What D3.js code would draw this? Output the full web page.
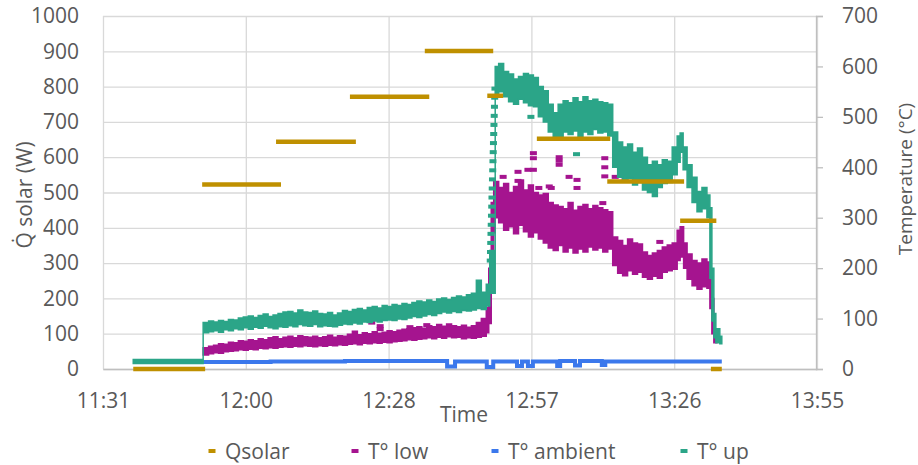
<!DOCTYPE html>
<html lang="en">
<head>
<meta charset="UTF-8">
<title>Qsolar and temperatures</title>
<script src="https://d3js.org/d3.v7.min.js"></script>
<style>
    body { margin: 0; background: white; }
    svg { display: block; background: white; }
    text { font-family: "Open Sans", "Noto Sans", sans-serif; fill: #595959; }
</style>
</head>
<body>
<svg width="918" height="465" id="chart"></svg>
<script>
    // time is in minutes after midnight
    const xTicks = [691.2, 720, 748.8, 777.6, 806.4, 835.2];
    const xTickLabels = ["11:31", "12:00", "12:28", "12:57", "13:26", "13:55"];
    const leftTicks = [0, 100, 200, 300, 400, 500, 600, 700, 800, 900, 1000];
    const rightTicks = [0, 100, 200, 300, 400, 500, 600, 700];

    const seriesNames = ["Qsolar", "T° low", "T° ambient", "T° up"];
    const seriesColors = ["#bf9000", "#a5148f", "#3b78ec", "#2ba588"];

    // Qsolar steps: [start, end, W]
    const qsolar = [
        [697.3, 711.8, 0], [711.2, 727.1, 523], [726.1, 742.2, 644], [741.0, 757.0, 771],
        [756.1, 769.9, 901], [768.7, 771.9, 774], [778.7, 793.5, 652], [792.9, 808.4, 531],
        [807.6, 814.9, 420], [813.8, 816.0, 0]
    ];

    // T up band: [time, low edge, high edge] in °C
    const tUp = [
        [697.3, 11, 19], [711.4, 72, 92], [712.5, 74, 95], [713.5, 76, 93], [714.5, 73, 96],
        [715.5, 78, 94], [716.5, 76, 98], [717.5, 80, 97], [718.5, 78, 101], [719.5, 82, 103],
        [720.5, 79, 105], [721.5, 83, 102], [722.5, 81, 106], [723.5, 85, 109], [724.5, 82, 104],
        [725.5, 80, 107], [726.5, 84, 110], [727.5, 83, 113], [728.5, 86, 114], [729.5, 84, 111],
        [730.5, 88, 117], [731.5, 86, 113], [732.5, 85, 112], [733.5, 88, 115], [734.5, 84, 110],
        [735.5, 86, 109], [736.5, 85, 112], [737.5, 84, 107], [738.5, 87, 111], [739.5, 89, 116],
        [740.5, 88, 114], [741.5, 91, 118], [742.5, 89, 120], [743.5, 93, 117], [744.5, 92, 122],
        [745.5, 95, 124], [746.5, 93, 121], [747.5, 96, 126], [748.5, 97, 124], [749.5, 96, 128],
        [750.5, 99, 126], [751.5, 98, 130], [752.5, 101, 128], [753.5, 104, 132], [754.5, 102, 135],
        [755.5, 105, 133], [756.5, 108, 137], [757.5, 106, 134], [758.5, 110, 139], [759.5, 113, 141],
        [760.5, 111, 138], [761.5, 114, 142], [762.5, 112, 145], [763.5, 116, 143], [764.5, 115, 147],
        [765.5, 117, 150], [766.5, 120, 176], [767.5, 118, 152], [768.5, 125, 168], [769.2, 150, 235],
        [770.3, 545, 600], [771.0, 550, 606], [772.0, 540, 590], [773.0, 530, 585], [774.0, 525, 575],
        [775.0, 535, 580], [776.0, 528, 586], [777.0, 522, 583], [778.0, 520, 578], [779.0, 500, 560],
        [780.0, 490, 552], [781.0, 470, 525], [782.0, 455, 508], [783.0, 460, 525], [784.0, 470, 532],
        [785.0, 465, 528], [786.0, 472, 538], [787.0, 460, 530], [788.0, 470, 540], [789.0, 465, 532],
        [790.0, 475, 535], [791.0, 468, 530], [792.0, 470, 528], [793.0, 462, 525], [794.0, 400, 470],
        [795.0, 380, 450], [796.0, 372, 440], [797.0, 378, 446], [798.0, 365, 430], [799.0, 370, 438],
        [800.0, 355, 420], [801.0, 350, 405], [802.0, 342, 412], [803.0, 360, 405], [804.0, 368, 415],
        [805.0, 370, 412], [806.0, 385, 440], [807.0, 410, 462], [807.6, 430, 468], [808.2, 395, 440],
        [809.0, 360, 405], [810.0, 330, 380], [811.0, 312, 352], [812.0, 318, 360], [813.0, 300, 345],
        [813.6, 180, 320], [814.0, 95, 200], [814.4, 62, 110], [814.8, 52, 80], [815.6, 50, 65],
        [816.0, 50, 65]
    ];
    // samples caught during the fast rise of T up
    const tUpRise = [215, 232, 250, 268, 286, 304, 322, 340, 358, 376, 394, 412, 430, 448, 466, 484, 502, 520, 538, 556];
    const tUpRiseTime = [769.3, 769.35, 769.4, 769.45, 769.5, 769.55, 769.6, 769.65, 769.7, 769.75,
        769.8, 769.85, 769.9, 769.95, 770.0, 770.05, 770.1, 770.15, 770.2, 770.25];
    const tUpOutliers = [[777.5, 500], [786.7, 426]];

    // T low band: [time, low edge, high edge] in °C
    const tLow = [
        [711.4, 28, 42], [712.5, 30, 45], [713.5, 32, 47], [714.5, 31, 50], [715.5, 34, 49],
        [716.5, 35, 53], [717.5, 36, 52], [718.5, 38, 56], [719.5, 37, 55], [720.5, 39, 58],
        [721.5, 38, 56], [722.5, 41, 60], [723.5, 40, 58], [724.5, 42, 62], [725.5, 41, 64],
        [726.5, 43, 60], [727.5, 44, 63], [728.5, 43, 65], [729.5, 45, 62], [730.5, 44, 66],
        [731.5, 46, 64], [732.5, 45, 63], [733.5, 44, 65], [734.5, 46, 62], [735.5, 45, 64],
        [736.5, 47, 67], [737.5, 46, 63], [738.5, 48, 66], [739.5, 47, 65], [740.5, 49, 69],
        [741.5, 50, 75], [742.5, 48, 68], [743.5, 51, 72], [744.5, 50, 70], [745.5, 52, 74],
        [746.5, 51, 71], [747.5, 53, 73], [748.5, 52, 76], [749.5, 54, 74], [750.5, 55, 77],
        [751.5, 56, 79], [752.5, 58, 80], [753.5, 57, 82], [754.5, 59, 84], [755.5, 60, 81],
        [756.5, 62, 86], [757.5, 60, 84], [758.5, 63, 88], [759.5, 61, 85], [760.5, 64, 89],
        [761.5, 62, 86], [762.5, 63, 84], [763.5, 60, 87], [764.5, 62, 83], [765.5, 61, 86],
        [766.5, 63, 92], [767.5, 65, 100], [768.5, 72, 122], [769.0, 90, 200], [769.5, 180, 330],
        [770.0, 270, 375], [770.3, 300, 372], [771.0, 290, 360], [772.0, 275, 368], [773.0, 282, 350],
        [774.0, 268, 362], [775.0, 285, 375], [776.0, 272, 355], [777.0, 262, 365], [778.0, 270, 350],
        [779.0, 258, 345], [780.0, 250, 348], [781.0, 240, 330], [782.0, 235, 325], [783.0, 245, 322],
        [784.0, 232, 318], [785.0, 240, 330], [786.0, 230, 315], [787.0, 238, 322], [788.0, 232, 326],
        [789.0, 242, 318], [790.0, 236, 324], [791.0, 240, 320], [792.0, 232, 316], [793.0, 238, 312],
        [794.0, 205, 262], [795.0, 190, 255], [796.0, 185, 245], [797.0, 195, 258], [798.0, 188, 250],
        [799.0, 192, 248], [800.0, 182, 232], [801.0, 178, 225], [802.0, 184, 230], [803.0, 180, 235],
        [804.0, 192, 242], [805.0, 195, 246], [806.0, 198, 250], [807.0, 215, 275], [807.6, 222, 282],
        [808.3, 200, 250], [809.0, 178, 228], [810.0, 165, 215], [811.0, 158, 210], [812.0, 163, 218],
        [813.0, 160, 212], [813.6, 120, 190], [814.0, 70, 140], [814.4, 52, 75], [815.0, 52, 75]
    ];
    const tLowOutliers = [
        [745.4, 92], [747.1, 85], [747.1, 79], [753.1, 83], [756.5, 87],
        [771.9, 381], [774.9, 391], [774.9, 373], [776.9, 395], [778.0, 428], [778.0, 418],
        [778.0, 395], [779.1, 359], [781.6, 359], [781.2, 362], [783.2, 420], [783.2, 413],
        [783.2, 405], [785.2, 381], [786.8, 375], [786.8, 359], [792.0, 329], [803.5, 252],
        [792.4, 418], [792.4, 400], [792.4, 382], [794.5, 381], [796.5, 378]
    ];

    // T ambient: [time, °C], held until the next sample
    const tAmbient = [
        [711.4, 14], [725, 15], [740, 16], [760.6, 5], [762.2, 15], [768.6, 4], [769.9, 15],
        [774.7, 6], [775.7, 15], [776.9, 6], [777.9, 15], [782.8, 6], [783.4, 16], [786.4, 7],
        [787.4, 16], [791.8, 8], [792.5, 15], [816.0, 15]
    ];

    const svg = d3.select("#chart");
    const plot = { left: 103, right: 817, top: 16, bottom: 369 };

    const x = d3.scaleLinear().domain([691.2, 835.2]).range([plot.left, plot.right]);
    const yW = d3.scaleLinear().domain([0, 1000]).range([plot.bottom, plot.top]);
    const yT = d3.scaleLinear().domain([0, 700]).range([plot.bottom, plot.top]);

    // grid
    svg.append("g")
        .attr("transform", `translate(${plot.left},0)`)
        .call(d3.axisLeft(yW).tickValues(leftTicks).tickSize(-(plot.right - plot.left)).tickFormat(""))
        .call(g => g.select(".domain").remove())
        .call(g => g.selectAll("line").attr("stroke", "#d9d9d9").attr("stroke-width", 1.3));
    svg.append("g")
        .attr("transform", `translate(0,${plot.bottom})`)
        .call(d3.axisBottom(x).tickValues(xTicks).tickSize(-(plot.bottom - plot.top)).tickFormat(""))
        .call(g => g.select(".domain").remove())
        .call(g => g.selectAll("line").attr("stroke", "#d9d9d9").attr("stroke-width", 1.3));

    // left axis labels
    svg.append("g")
        .attr("transform", `translate(${plot.left},0)`)
        .call(d3.axisLeft(yW).tickValues(leftTicks).tickSize(0).tickPadding(24).tickFormat(d3.format("d")))
        .call(g => g.select(".domain").remove())
        .call(g => g.selectAll("text").attr("font-size", 21).attr("font-family", null).attr("fill", "#595959"));

    // bottom axis
    svg.append("g")
        .attr("transform", `translate(0,${plot.bottom})`)
        .call(d3.axisBottom(x).tickValues(xTicks).tickSize(0).tickPadding(24)
            .tickFormat((d, i) => xTickLabels[i]))
        .call(g => g.select(".domain").attr("stroke", "#bfbfbf").attr("stroke-width", 1.3))
        .call(g => g.selectAll("text").attr("font-size", 21).attr("font-family", null).attr("fill", "#595959"));

    // right axis
    svg.append("g")
        .attr("transform", `translate(${plot.right - 1},0)`)
        .call(d3.axisRight(yT).tickValues(rightTicks).tickSize(7).tickPadding(19))
        .call(g => g.select(".domain").attr("stroke", "#bfbfbf").attr("stroke-width", 1.3))
        .call(g => g.selectAll("line").attr("stroke", "#bfbfbf").attr("stroke-width", 1.3))
        .call(g => g.selectAll("text").attr("font-size", 21).attr("font-family", null).attr("fill", "#595959"));

    // series
    const band = y => d3.area()
        .x(d => x(d[0]))
        .y0(d => y(d[1]))
        .y1(d => y(d[2]))
        .curve(d3.curveStepAfter);

    function drawDash(g, cx, cy, color) {
        g.append("rect")
            .attr("x", cx - 3.5).attr("y", cy - 2)
            .attr("width", 7).attr("height", 4)
            .attr("fill", color);
    }

    // T low
    const gLow = svg.append("g");
    gLow.append("path").datum(tLow)
        .attr("d", band(yT))
        .attr("fill", seriesColors[1]).attr("stroke", seriesColors[1]).attr("stroke-width", 1.5);
    tLowOutliers.forEach(d => drawDash(gLow, x(d[0]), yT(d[1]), seriesColors[1]));

    // T ambient
    svg.append("path").datum(tAmbient)
        .attr("d", d3.line().x(d => x(d[0])).y(d => yT(d[1])).curve(d3.curveStepAfter))
        .attr("fill", "none").attr("stroke", seriesColors[2]).attr("stroke-width", 4);

    // T up
    const gUp = svg.append("g");
    gUp.append("path").datum(tUp)
        .attr("d", band(yT))
        .attr("fill", seriesColors[3]).attr("stroke", seriesColors[3]).attr("stroke-width", 1.5);
    tUpRise.forEach((v, i) => drawDash(gUp, x(tUpRiseTime[i]), yT(v), seriesColors[3]));
    tUpOutliers.forEach(d => drawDash(gUp, x(d[0]), yT(d[1]), seriesColors[3]));

    // Qsolar
    svg.append("g").selectAll("line").data(qsolar).join("line")
        .attr("x1", d => x(d[0])).attr("x2", d => x(d[1]))
        .attr("y1", d => yW(d[2])).attr("y2", d => yW(d[2]))
        .attr("stroke", seriesColors[0]).attr("stroke-width", 4.5);

    // axis titles
    svg.append("text")
        .attr("transform", "translate(32,195) rotate(-90)")
        .attr("text-anchor", "middle").attr("font-size", 21)
        .text("Q\u0307 solar (W)");
    svg.append("text")
        .attr("transform", "translate(912,179) rotate(-90)")
        .attr("text-anchor", "middle").attr("font-size", 19)
        .text("Temperature (°C)");
    svg.append("text")
        .attr("x", 464).attr("y", 422)
        .attr("text-anchor", "middle").attr("font-size", 21)
        .text("Time");

    // legend
    const legendX = [212, 355, 495, 684];
    const legend = svg.append("g");
    seriesNames.forEach((name, i) => {
        drawDash(legend, legendX[i], 451, seriesColors[i]);
        legend.append("text")
            .attr("x", legendX[i] + 13).attr("y", 459)
            .attr("font-size", 21)
            .text(name);
    });
</script>
</body>
</html>
